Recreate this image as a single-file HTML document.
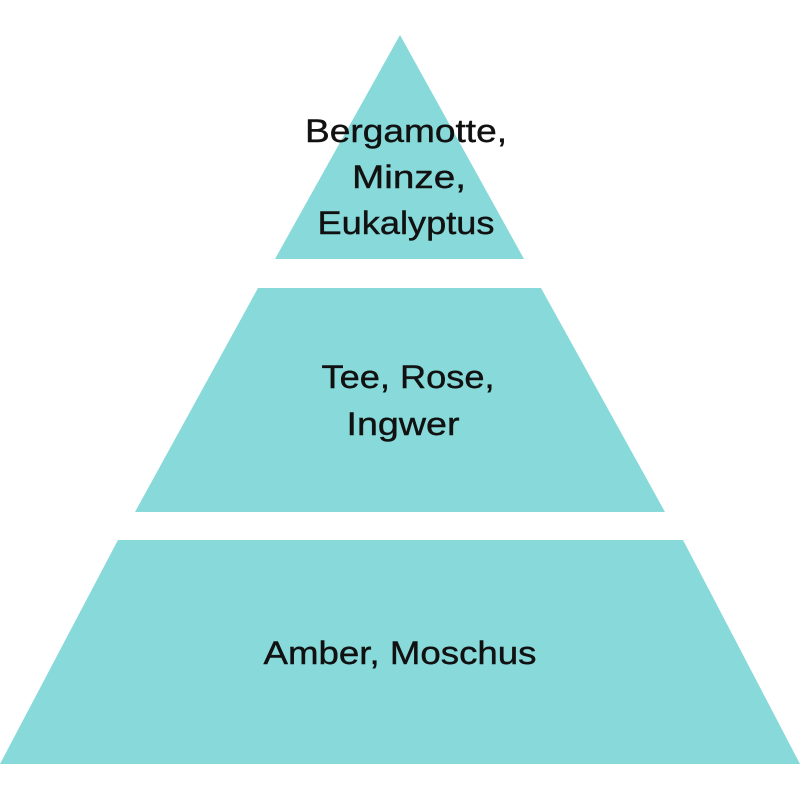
<!DOCTYPE html>
<html><head><meta charset="utf-8"><style>
html,body{margin:0;padding:0;background:#fff;width:800px;height:800px;overflow:hidden}
text{font-family:"Liberation Sans",sans-serif;font-size:32px;fill:#111;text-anchor:middle;stroke:#111;stroke-width:0.4}
</style></head><body>
<svg width="800" height="800" viewBox="0 0 800 800" xmlns="http://www.w3.org/2000/svg">
<rect width="800" height="800" fill="#fff"/>
<g fill="#87d9da">
<polygon points="400,35 524,259 275,259"/>
<polygon points="258,288 541,288 665,512 135,512"/>
<polygon points="118,540 683,540 800,764 0,764"/>
</g>
<text x="406" y="142" textLength="202" lengthAdjust="spacingAndGlyphs">Bergamotte,</text>
<text x="409" y="188" textLength="114" lengthAdjust="spacingAndGlyphs">Minze,</text>
<text x="406" y="234" textLength="177" lengthAdjust="spacingAndGlyphs">Eukalyptus</text>
<text x="408" y="388" textLength="173" lengthAdjust="spacingAndGlyphs">Tee, Rose,</text>
<text x="403" y="435" textLength="113" lengthAdjust="spacingAndGlyphs">Ingwer</text>
<text x="400" y="664" textLength="273" lengthAdjust="spacingAndGlyphs">Amber, Moschus</text>
</svg>
</body></html>
